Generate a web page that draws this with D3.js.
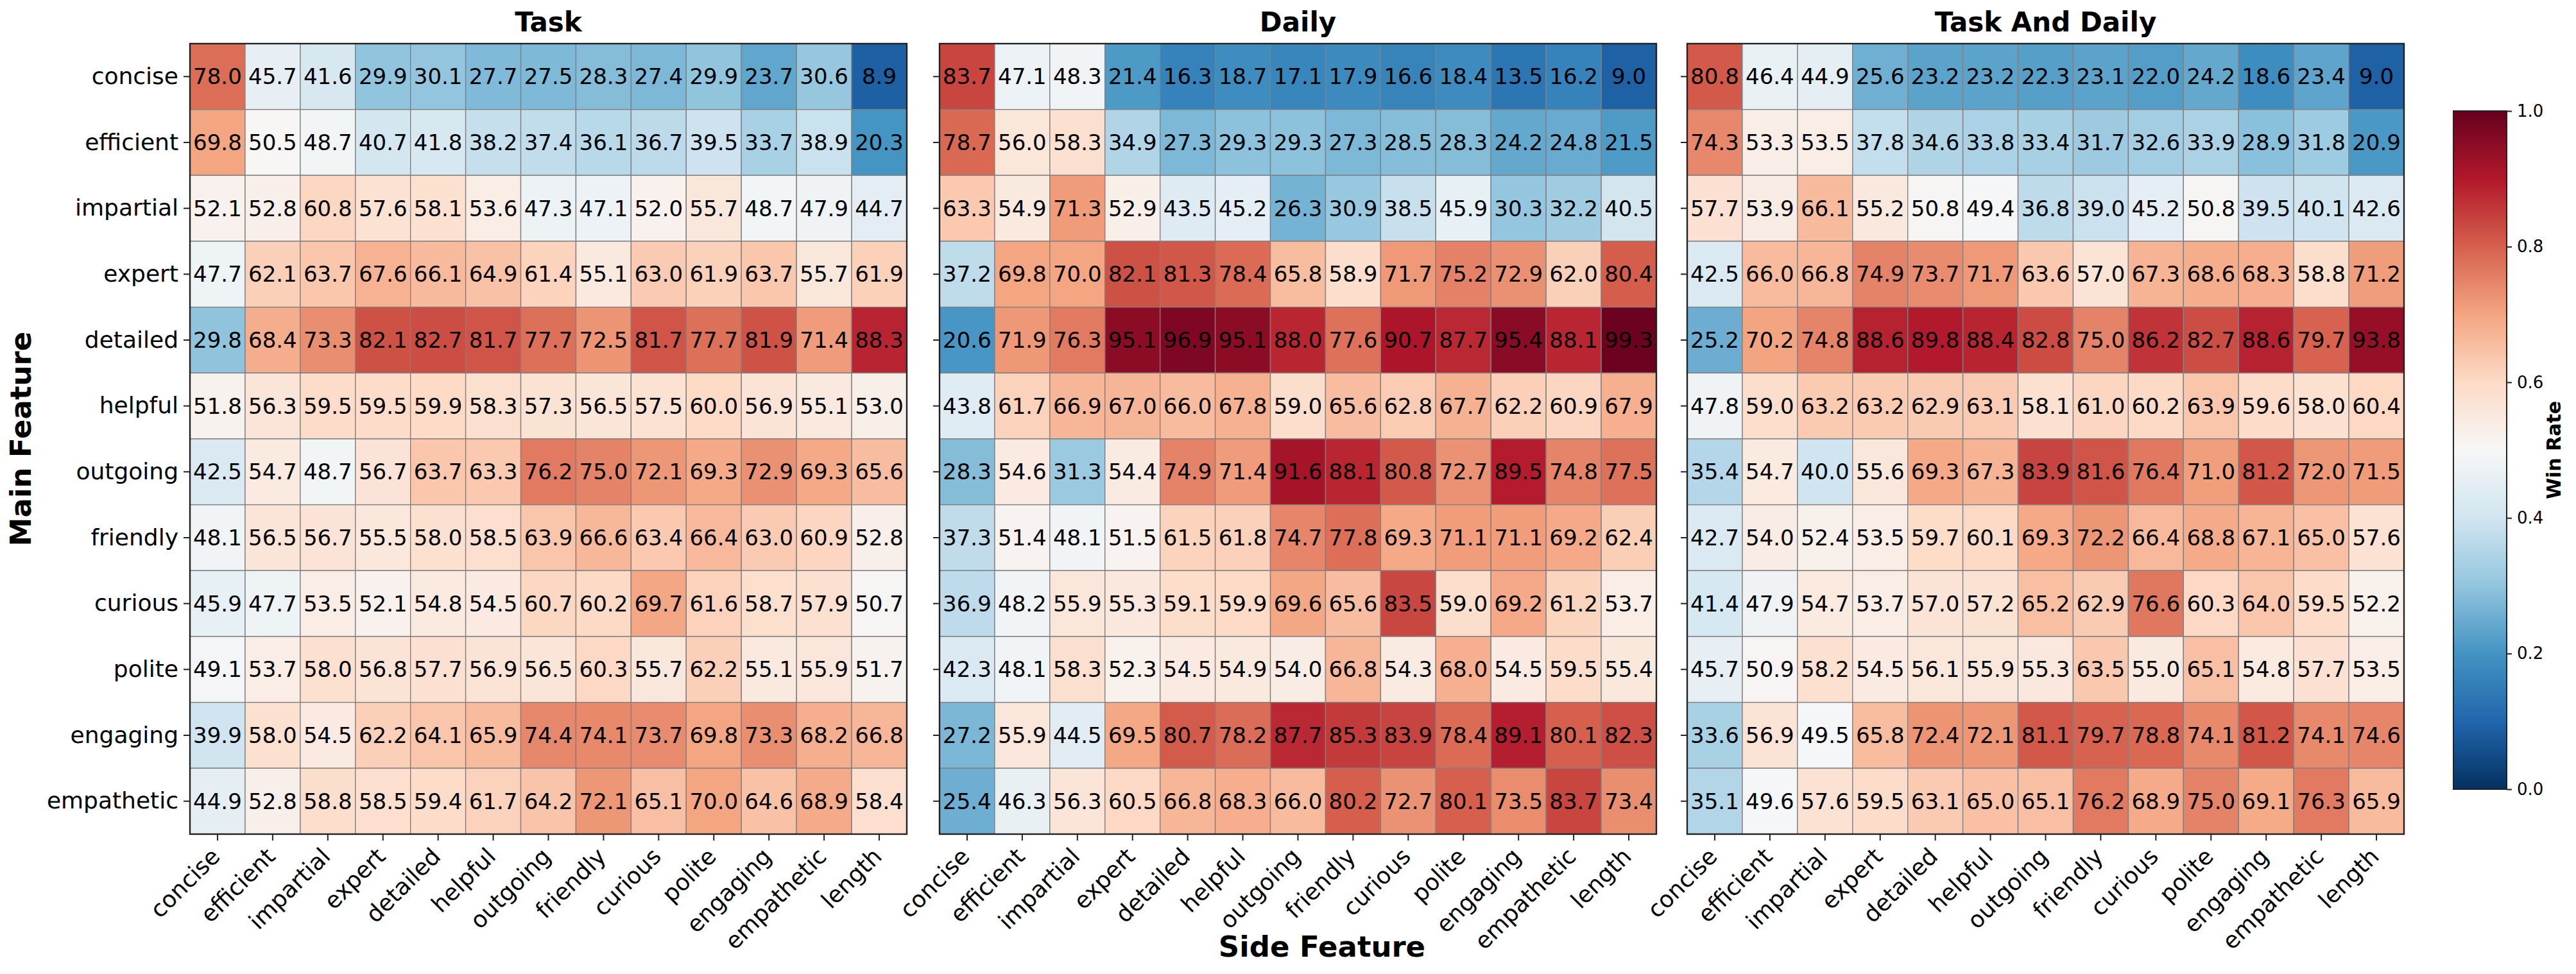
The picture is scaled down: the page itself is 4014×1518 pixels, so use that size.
<!DOCTYPE html>
<html>
<head>
<meta charset="utf-8">
<script src="https://cdn.jsdelivr.net/npm/d3@7"></script>
<style>
  body { margin: 0; background: #fff; }
  svg { display: block; font-family: "DejaVu Sans", sans-serif; }
</style>
</head>
<body>
<svg id="chart"></svg>
<script>
/******************** data ********************/
const mainFeatures = ["concise", "efficient", "impartial", "expert", "detailed", "helpful", "outgoing", "friendly", "curious", "polite", "engaging", "empathetic"];
const sideFeatures = ["concise", "efficient", "impartial", "expert", "detailed", "helpful", "outgoing", "friendly", "curious", "polite", "engaging", "empathetic", "length"];
const panelTitles = ["Task", "Daily", "Task And Daily"];

const taskRows = [
  [78.0, 45.7, 41.6, 29.9, 30.1, 27.7, 27.5, 28.3, 27.4, 29.9, 23.7, 30.6, 8.9],
  [69.8, 50.5, 48.7, 40.7, 41.8, 38.2, 37.4, 36.1, 36.7, 39.5, 33.7, 38.9, 20.3],
  [52.1, 52.8, 60.8, 57.6, 58.1, 53.6, 47.3, 47.1, 52.0, 55.7, 48.7, 47.9, 44.7],
  [47.7, 62.1, 63.7, 67.6, 66.1, 64.9, 61.4, 55.1, 63.0, 61.9, 63.7, 55.7, 61.9],
  [29.8, 68.4, 73.3, 82.1, 82.7, 81.7, 77.7, 72.5, 81.7, 77.7, 81.9, 71.4, 88.3],
  [51.8, 56.3, 59.5, 59.5, 59.9, 58.3, 57.3, 56.5, 57.5, 60.0, 56.9, 55.1, 53.0],
  [42.5, 54.7, 48.7, 56.7, 63.7, 63.3, 76.2, 75.0, 72.1, 69.3, 72.9, 69.3, 65.6],
  [48.1, 56.5, 56.7, 55.5, 58.0, 58.5, 63.9, 66.6, 63.4, 66.4, 63.0, 60.9, 52.8],
  [45.9, 47.7, 53.5, 52.1, 54.8, 54.5, 60.7, 60.2, 69.7, 61.6, 58.7, 57.9, 50.7],
  [49.1, 53.7, 58.0, 56.8, 57.7, 56.9, 56.5, 60.3, 55.7, 62.2, 55.1, 55.9, 51.7],
  [39.9, 58.0, 54.5, 62.2, 64.1, 65.9, 74.4, 74.1, 73.7, 69.8, 73.3, 68.2, 66.8],
  [44.9, 52.8, 58.8, 58.5, 59.4, 61.7, 64.2, 72.1, 65.1, 70.0, 64.6, 68.9, 58.4]
];
const dailyRows = [
  [83.7, 47.1, 48.3, 21.4, 16.3, 18.7, 17.1, 17.9, 16.6, 18.4, 13.5, 16.2, 9.0],
  [78.7, 56.0, 58.3, 34.9, 27.3, 29.3, 29.3, 27.3, 28.5, 28.3, 24.2, 24.8, 21.5],
  [63.3, 54.9, 71.3, 52.9, 43.5, 45.2, 26.3, 30.9, 38.5, 45.9, 30.3, 32.2, 40.5],
  [37.2, 69.8, 70.0, 82.1, 81.3, 78.4, 65.8, 58.9, 71.7, 75.2, 72.9, 62.0, 80.4],
  [20.6, 71.9, 76.3, 95.1, 96.9, 95.1, 88.0, 77.6, 90.7, 87.7, 95.4, 88.1, 99.3],
  [43.8, 61.7, 66.9, 67.0, 66.0, 67.8, 59.0, 65.6, 62.8, 67.7, 62.2, 60.9, 67.9],
  [28.3, 54.6, 31.3, 54.4, 74.9, 71.4, 91.6, 88.1, 80.8, 72.7, 89.5, 74.8, 77.5],
  [37.3, 51.4, 48.1, 51.5, 61.5, 61.8, 74.7, 77.8, 69.3, 71.1, 71.1, 69.2, 62.4],
  [36.9, 48.2, 55.9, 55.3, 59.1, 59.9, 69.6, 65.6, 83.5, 59.0, 69.2, 61.2, 53.7],
  [42.3, 48.1, 58.3, 52.3, 54.5, 54.9, 54.0, 66.8, 54.3, 68.0, 54.5, 59.5, 55.4],
  [27.2, 55.9, 44.5, 69.5, 80.7, 78.2, 87.7, 85.3, 83.9, 78.4, 89.1, 80.1, 82.3],
  [25.4, 46.3, 56.3, 60.5, 66.8, 68.3, 66.0, 80.2, 72.7, 80.1, 73.5, 83.7, 73.4]
];
const bothRows = [
  [80.8, 46.4, 44.9, 25.6, 23.2, 23.2, 22.3, 23.1, 22.0, 24.2, 18.6, 23.4, 9.0],
  [74.3, 53.3, 53.5, 37.8, 34.6, 33.8, 33.4, 31.7, 32.6, 33.9, 28.9, 31.8, 20.9],
  [57.7, 53.9, 66.1, 55.2, 50.8, 49.4, 36.8, 39.0, 45.2, 50.8, 39.5, 40.1, 42.6],
  [42.5, 66.0, 66.8, 74.9, 73.7, 71.7, 63.6, 57.0, 67.3, 68.6, 68.3, 58.8, 71.2],
  [25.2, 70.2, 74.8, 88.6, 89.8, 88.4, 82.8, 75.0, 86.2, 82.7, 88.6, 79.7, 93.8],
  [47.8, 59.0, 63.2, 63.2, 62.9, 63.1, 58.1, 61.0, 60.2, 63.9, 59.6, 58.0, 60.4],
  [35.4, 54.7, 40.0, 55.6, 69.3, 67.3, 83.9, 81.6, 76.4, 71.0, 81.2, 72.0, 71.5],
  [42.7, 54.0, 52.4, 53.5, 59.7, 60.1, 69.3, 72.2, 66.4, 68.8, 67.1, 65.0, 57.6],
  [41.4, 47.9, 54.7, 53.7, 57.0, 57.2, 65.2, 62.9, 76.6, 60.3, 64.0, 59.5, 52.2],
  [45.7, 50.9, 58.2, 54.5, 56.1, 55.9, 55.3, 63.5, 55.0, 65.1, 54.8, 57.7, 53.5],
  [33.6, 56.9, 49.5, 65.8, 72.4, 72.1, 81.1, 79.7, 78.8, 74.1, 81.2, 74.1, 74.6],
  [35.1, 49.6, 57.6, 59.5, 63.1, 65.0, 65.1, 76.2, 68.9, 75.0, 69.1, 76.3, 65.9]
];
const colorbarTicks = [0, 0.2, 0.4, 0.6, 0.8, 1.0];
// RdBu_r (ColorBrewer 11 class), low -> high
const rdbuColors = ["#053061", "#2166ac", "#4393c3", "#92c5de", "#d1e5f0", "#f7f7f7", "#fddbc7", "#f4a582", "#d6604d", "#b2182b", "#67001f"];

/******************** layout ********************/
const width = 4014;
const height = 1518;
const panelLeft = [296, 1464, 2629];
const panelWidth = 1117;
const plotTop = 68;
const plotBottom = 1300;
const tickLen = 10;

const svg = d3.select("svg#chart").attr("width", width).attr("height", height);
svg.append("rect").attr("width", width).attr("height", height).attr("fill", "#fff");

const color = d3
  .scaleLinear()
  .domain(d3.range(11).map((i) => i * 10))
  .range(rdbuColors)
  .interpolate(d3.interpolateRgb)
  .clamp(true);

const scaleY = d3.scaleBand().domain(mainFeatures).range([plotTop, plotBottom]);

const drawPanel = (rows, idx) => {
  const x0 = panelLeft[idx];
  const scaleX = d3.scaleBand().domain(sideFeatures).range([x0, x0 + panelWidth]);
  const g = svg.append("g").attr("class", "panel");

  const cells = rows.flatMap((row, r) => row.map((v, c) => ({ main: mainFeatures[r], side: sideFeatures[c], v })));

  g.selectAll("rect.cell")
    .data(cells)
    .join("rect")
    .attr("class", "cell")
    .attr("x", (d) => scaleX(d.side))
    .attr("y", (d) => scaleY(d.main))
    .attr("width", scaleX.bandwidth())
    .attr("height", scaleY.bandwidth())
    .attr("fill", (d) => color(d.v))
    .attr("stroke", "#808080")
    .attr("stroke-width", 1.4);

  g.selectAll("text.val")
    .data(cells)
    .join("text")
    .attr("class", "val")
    .attr("x", (d) => scaleX(d.side) + scaleX.bandwidth() / 2)
    .attr("y", (d) => scaleY(d.main) + scaleY.bandwidth() / 2)
    .attr("text-anchor", "middle")
    .attr("dominant-baseline", "central")
    .style("font-size", "34px")
    .attr("fill", "#000")
    .text((d) => d.v.toFixed(1));

  // frame
  g.append("rect")
    .attr("x", x0)
    .attr("y", plotTop)
    .attr("width", panelWidth)
    .attr("height", plotBottom - plotTop)
    .attr("fill", "none")
    .attr("stroke", "#222")
    .attr("stroke-width", 2.4);

  // axes
  const yAxis = d3.axisLeft(scaleY).tickSize(tickLen).tickPadding(8).tickFormat(idx === 0 ? (d) => d : () => "");
  const ya = g.append("g").attr("transform", `translate(${x0},0)`).call(yAxis);
  ya.select(".domain").remove();
  ya.selectAll(".tick line").attr("stroke", "#222").attr("stroke-width", 2);
  ya.selectAll(".tick text").style("font-size", "36px").attr("fill", "#000").attr("font-family", "DejaVu Sans");

  const xAxis = d3.axisBottom(scaleX).tickSize(tickLen).tickFormat("");
  const xa = g.append("g").attr("transform", `translate(0,${plotBottom})`).call(xAxis);
  xa.select(".domain").remove();
  xa.selectAll(".tick line").attr("stroke", "#222").attr("stroke-width", 2);

  g.selectAll("text.xlab")
    .data(sideFeatures)
    .join("text")
    .attr("class", "xlab")
    .attr("transform", (d) => `translate(${scaleX(d) + scaleX.bandwidth() / 2 + 6},${plotBottom + 37}) rotate(-45)`)
    .attr("text-anchor", "end")
    .style("font-size", "36px")
    .attr("fill", "#000")
    .text((d) => d);

  // title
  g.append("text")
    .attr("x", x0 + panelWidth / 2)
    .attr("y", 49)
    .attr("text-anchor", "middle")
    .style("font-size", "42px")
    .style("font-weight", "bold")
    .text(panelTitles[idx]);
};

[taskRows, dailyRows, bothRows].forEach((rows, i) => drawPanel(rows, i));

// axis titles
svg.append("text")
  .attr("transform", `translate(48,${(plotTop + plotBottom) / 2}) rotate(-90)`)
  .attr("text-anchor", "middle")
  .style("font-size", "45px")
  .style("font-weight", "bold")
  .text("Main Feature");

svg.append("text")
  .attr("x", 2060)
  .attr("y", 1491)
  .attr("text-anchor", "middle")
  .style("font-size", "45px")
  .style("font-weight", "bold")
  .text("Side Feature");

/******************** colorbar ********************/
const cbX = 3823;
const cbW = 83;
const cbTop = 173;
const cbBottom = 1230;
const cbScale = d3.scaleLinear().domain([0, 1]).range([cbBottom, cbTop]);

const grad = svg.append("defs").append("linearGradient")
  .attr("id", "cbgrad")
  .attr("x1", "0").attr("y1", "1").attr("x2", "0").attr("y2", "0");
grad.selectAll("stop")
  .data(rdbuColors)
  .join("stop")
  .attr("offset", (_, i) => `${i * 10}%`)
  .attr("stop-color", (d) => d);

svg.append("rect")
  .attr("x", cbX)
  .attr("y", cbTop)
  .attr("width", cbW)
  .attr("height", cbBottom - cbTop)
  .attr("fill", "url(#cbgrad)")
  .attr("stroke", "#222")
  .attr("stroke-width", 2);

const cbAxis = d3.axisRight(cbScale).tickValues(colorbarTicks).tickSize(8).tickPadding(8).tickFormat(d3.format(".1f"));
const cba = svg.append("g").attr("transform", `translate(${cbX + cbW},0)`).call(cbAxis);
cba.select(".domain").remove();
cba.selectAll(".tick line").attr("stroke", "#222").attr("stroke-width", 2);
cba.selectAll(".tick text").style("font-size", "26px").attr("fill", "#000").attr("font-family", "DejaVu Sans");

svg.append("text")
  .attr("transform", `translate(3990,${(cbTop + cbBottom) / 2}) rotate(-90)`)
  .attr("text-anchor", "middle")
  .style("font-size", "30px")
  .style("font-weight", "bold")
  .text("Win Rate");
</script>
</body>
</html>
